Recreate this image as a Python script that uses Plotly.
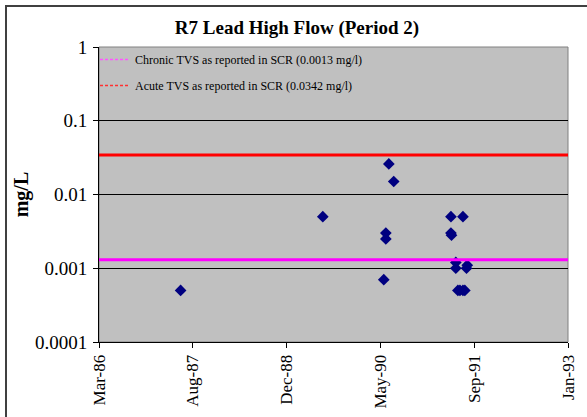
import plotly.graph_objects as go

# ---- data ----
sample_dates = [
    "1987-06-03", "1989-06-30", "1990-06-17", "1990-07-13", "1990-06-01",
    "1990-06-01", "1990-05-21", "1991-05-14", "1991-07-17", "1991-05-14",
    "1991-05-17", "1991-06-09", "1991-06-09", "1991-08-05", "1991-08-09",
    "1991-06-20", "1991-07-01", "1991-07-17", "1991-07-27",
]
lead_mg_l = [
    0.0005, 0.005, 0.026, 0.015, 0.003,
    0.0025, 0.0007, 0.005, 0.005, 0.003,
    0.0028, 0.0012, 0.001, 0.001, 0.0011,
    0.0005, 0.0005, 0.0005, 0.0005,
]
chronic_tvs = 0.0013
acute_tvs = 0.0342
chronic_label = "Chronic TVS as reported in SCR (0.0013 mg/l)"
acute_label = "Acute TVS as reported in SCR (0.0342 mg/l)"

x_range = ["1986-03-25", "1993-01-27"]
x_tickvals = ["1986-03-25", "1987-08-07", "1988-12-19", "1990-05-03", "1991-09-15", "1993-01-27"]
x_ticktext = ["Mar-86", "Aug-87", "Dec-88", "May-90", "Sep-91", "Jan-93"]
y_tickvals = [0.0001, 0.001, 0.01, 0.1, 1]
y_ticktext = ["0.0001", "0.001", "0.01", "0.1", "1"]

title_text = "R7 Lead High Flow (Period 2)"
y_title = "mg/L"

FONT = "Liberation Serif, Times New Roman, serif"

W, H = 587, 417
L, R, T, B = 99, 19, 47, 75
pw, ph = W - L - R, H - T - B

fig = go.Figure()

fig.add_trace(go.Scatter(
    x=sample_dates, y=lead_mg_l, mode="markers",
    marker=dict(symbol="diamond", size=9, color="#000080", line=dict(width=0)),
    showlegend=False, hoverinfo="x+y",
))

fig.add_trace(go.Scatter(
    x=x_range, y=[chronic_tvs, chronic_tvs], mode="lines",
    line=dict(color="#FF00FF", width=3), showlegend=False,
))
fig.add_trace(go.Scatter(
    x=x_range, y=[acute_tvs, acute_tvs], mode="lines",
    line=dict(color="#FF0000", width=3), showlegend=False,
))

# legend entries (thin dashed samples like the original)
fig.add_trace(go.Scatter(
    x=[None], y=[None], mode="lines", name=chronic_label, legendgroup="c",
    line=dict(color="#FF55FF", width=1.5, dash="3px,2px"),
))
fig.add_trace(go.Scatter(
    x=[None], y=[None], mode="lines", name=acute_label, legendgroup="a",
    line=dict(color="#FF3030", width=1.5, dash="3px,2px"),
))

def px_x(px):
    return (px - L) / pw

def px_y(py):
    return (H - B - py) / ph

shapes = [
    # plot area border
    dict(type="rect", xref="paper", yref="paper", x0=0, x1=1, y0=0, y1=1,
         line=dict(color="#808080", width=1), layer="below"),
    # outer chart frame
    dict(type="rect", xref="paper", yref="paper",
         x0=px_x(6), x1=px_x(W + 5), y0=px_y(H + 5), y1=px_y(6),
         line=dict(color="#404040", width=2), layer="below"),
]

fig.update_layout(
    width=W, height=H, autosize=False,
    margin=dict(l=L, r=R, t=T, b=B, pad=0, autoexpand=False),
    paper_bgcolor="white",
    plot_bgcolor="#C0C0C0",
    font=dict(family=FONT, color="black", size=17),
    title=dict(text="<b>" + title_text + "</b>", x=297 / W, xanchor="center",
               y=1 - 27 / H, yanchor="middle", automargin=False,
               font=dict(family=FONT, size=19, color="black")),
    showlegend=True,
    legend=dict(x=px_x(95), y=px_y(45), xanchor="left", yanchor="top",
                bgcolor="rgba(0,0,0,0)", borderwidth=0,
                font=dict(family=FONT, size=12, color="black"),
                traceorder="grouped", tracegroupgap=7,
                itemwidth=30),
    shapes=shapes,
    xaxis=dict(
        type="date", range=x_range, tickmode="array", automargin=False,
        tickvals=x_tickvals, ticktext=x_ticktext, tickangle=-90,
        showgrid=False, zeroline=False,
        showline=True, linecolor="black", linewidth=1,
        ticks="outside", ticklen=5, tickcolor="black",
        tickfont=dict(family=FONT, size=17, color="black"),
    ),
    yaxis=dict(
        type="log", range=[-4, 0], tickmode="array", automargin=False,
        tickvals=y_tickvals, ticktext=y_ticktext,
        showgrid=True, gridcolor="black", gridwidth=1,
        zeroline=False,
        showline=True, linecolor="black", linewidth=1,
        ticks="outside", ticklen=5, tickcolor="black",
        ticklabelstandoff=2,
        tickfont=dict(family=FONT, size=19, color="black"),
        title=dict(text="<b>" + y_title + "</b>", standoff=0,
                   font=dict(family=FONT, size=20, color="black")),
    ),
)

fig.write_html("out.html", config={"displayModeBar": False},
               post_script="document.body.style.margin='0px';")
